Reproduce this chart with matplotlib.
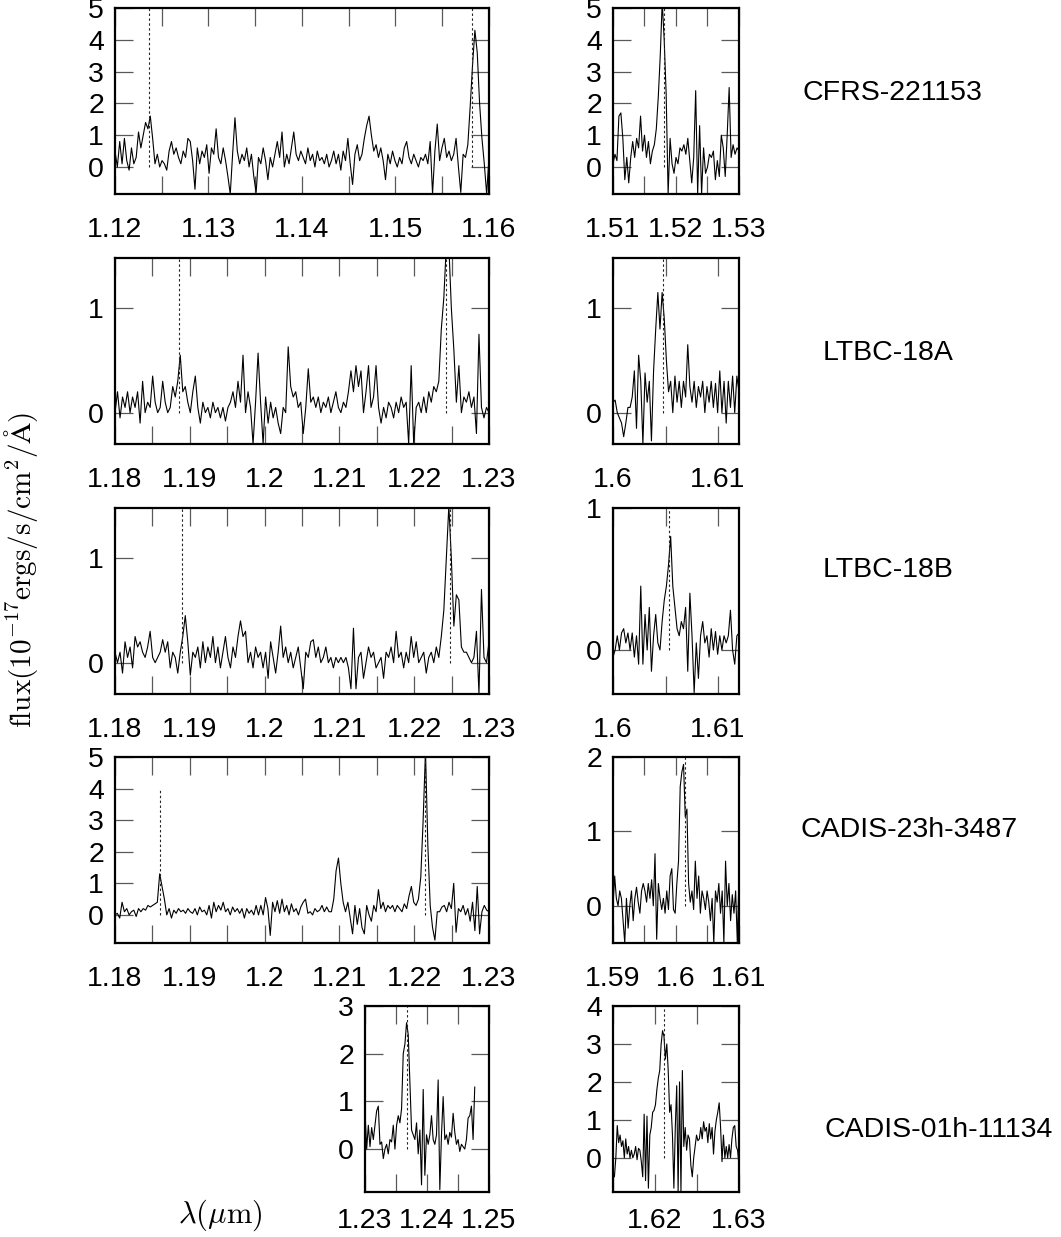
import numpy as np
import matplotlib
matplotlib.use("Agg")
import matplotlib.pyplot as plt

plt.rcParams['font.family'] = ['Liberation Sans', 'DejaVu Sans']
plt.rcParams['mathtext.fontset'] = 'cm'

# ---------------- data ----------------
objects = ["CFRS-221153", "LTBC-18A", "LTBC-18B", "CADIS-23h-3487", "CADIS-01h-11134"]

# CFRS-221153, J band
cfrs_j_range = (1.12, 1.16)
cfrs_j_flux = [0.5, 0.0, 0.8, 0.1, 0.9, 0.2, -0.1, 0.6, 0.1, 0.3,
               1.1, 0.6, 1.0, 1.4, 1.2, 1.6, 0.9, 0.1, 0.4, 0.0,
               0.2, 0.1, -0.1, 0.5, 0.8, 0.4, 0.6, 0.3, 0.1, 0.5,
               0.3, 0.9, 0.8, 0.2, -0.7, 0.6, 0.1, 0.5, 0.3, 0.7,
               -0.2, 0.6, 0.4, 1.2, 0.3, 0.1, 0.6, 0.2, -0.3, -0.85,
               0.4, 1.55, 0.5, 0.1, 0.4, 0.2, 0.6, 0.0, 0.4, -0.3,
               -0.8, 0.3, 0.1, 0.6, 0.2, -0.4, 0.3, 0.0, 0.4, 0.8,
               0.3, 1.1, 0.0, 0.4, 0.1, 0.6, 1.1, 0.4, 0.2, 0.5,
               0.3, 0.1, 0.6, 0.2, 0.4, 0.0, 0.5, 0.2, 0.3, 0.1,
               0.4, 0.0, 0.2, 0.5, 0.1, 0.4, -0.1, 0.5, 0.2, 0.9,
               0.1, -0.55, 0.4, 0.7, 0.2, 0.4, 0.9, 1.3, 1.6, 1.0,
               0.5, 0.7, 0.3, 0.6, 0.2, -0.4, 0.4, 0.1, 0.5, 0.2,
               0.0, 0.3, 0.1, 0.6, 0.8, 0.3, 0.1, 0.4, 0.2, 0.0,
               0.3, 0.2, 0.4, 0.1, 0.8, -0.85, 0.5, 1.35, 0.2, 0.6,
               0.9, 0.3, 0.5, 0.2, 0.4, 0.9, 0.0, -0.8, 0.4, 0.3,
               0.7, 1.9, 3.2, 4.3, 3.6, 2.0, 0.9, 0.1, -0.85, 0.3]
cfrs_j_lines = [1.1236, 1.1582]

# CFRS-221153, H band
cfrs_h_range = (1.51, 1.53)
cfrs_h_flux = [0.1, 0.4, 0.2, 1.6, 1.7, 0.9, -0.4, 0.3, -0.5, 0.3,
               0.8, 0.3, 0.9, 0.6, 1.6, 0.5, 1.0, 0.3, 0.8, 0.1,
               0.5, 0.7, 1.2, 2.2, 3.5, 5.2, 4.0, 2.3, -0.85, 0.9,
               0.1, -0.2, 0.3, 0.1, 0.6, 0.5, 0.7, 0.4, 0.9, 0.2,
               -0.5, 0.3, 2.4, -0.85, 1.3, -0.85, 0.6, -0.2, 0.0, 0.4,
               0.3, 0.5, -0.4, 0.2, -0.3, 1.0, 0.6, -0.3, 1.0, 2.5,
               0.3, 0.7, 0.4, 0.6, 0.5]
cfrs_h_lines = [1.5181]

# LTBC-18A, J band
ltbca_j_range = (1.18, 1.23)
ltbca_j_flux = [0.0, 0.2, -0.05, 0.15, 0.05, 0.2, 0.0, 0.15, 0.05, 0.2,
                -0.1, 0.3, 0.0, 0.1, 0.05, 0.35, 0.1, 0.0, 0.05, 0.3,
                0.1, 0.0, 0.05, 0.25, 0.15, 0.3, 0.55, 0.2, 0.25, 0.1,
                0.0, 0.2, 0.35, 0.05, -0.1, 0.1, 0.0, 0.05, -0.05, 0.1,
                0.0, 0.05, -0.05, 0.05, -0.08, 0.05, 0.1, 0.2, 0.05, 0.3,
                0.1, 0.55, 0.0, 0.2, 0.05, -0.3, 0.1, 0.57, 0.1, -0.3,
                0.15, -0.1, 0.1, -0.05, 0.05, -0.1, -0.2, 0.05, 0.0, 0.63,
                0.25, 0.15, 0.2, 0.05, 0.1, -0.2, 0.05, 0.42, 0.1, 0.15,
                0.05, 0.15, 0.0, 0.1, 0.05, 0.15, 0.0, 0.1, 0.2, 0.05,
                0.0, 0.1, 0.05, 0.2, 0.4, 0.2, 0.45, 0.25, 0.4, 0.0,
                0.2, 0.45, 0.05, 0.15, 0.45, 0.05, -0.1, 0.05, -0.05, 0.1,
                0.05, -0.05, 0.1, 0.0, 0.15, 0.05, 0.1, -0.3, 0.45, -0.3,
                0.05, 0.1, 0.0, 0.15, 0.0, 0.2, 0.1, 0.25, 0.2, 0.3,
                0.8, 1.1, 1.6, 1.6, 1.0, 0.6, 0.1, 0.45, 0.0, 0.15,
                0.1, 0.2, 0.05, 0.15, -0.2, 0.75, 0.05, -0.05, 0.05, 0.0]
ltbca_j_lines = [1.1886, 1.2242]

# LTBC-18A, H band
ltbca_h_range = (1.6, 1.612)
ltbca_h_flux = [0.1, 0.12, 0.0, -0.05, -0.1, -0.23, -0.1, 0.05, 0.05, 0.15,
                0.4, -0.15, 0.55, 0.3, -0.3, 0.38, 0.1, 0.3, -0.27, 0.4,
                0.8, 1.15, 0.8, 1.15, 0.9, 0.5, 0.2, 0.3, 0.0, 0.35,
                0.1, 0.3, 0.05, 0.3, 0.15, 0.65, 0.25, 0.1, 0.3, 0.05,
                0.25, 0.15, 0.3, 0.0, 0.25, 0.1, 0.3, 0.05, 0.28, 0.0,
                0.4, 0.0, 0.3, -0.1, 0.3, 0.05, 0.35, 0.0, 0.35, 0.2]
ltbca_h_lines = [1.6048]

# LTBC-18B, J band
ltbcb_j_range = (1.18, 1.23)
ltbcb_j_flux = [0.1, 0.0, 0.1, -0.1, 0.2, 0.05, 0.15, -0.05, 0.25, 0.15,
                0.2, 0.1, 0.05, 0.15, 0.3, 0.05, 0.0, 0.05, 0.1, 0.22,
                0.1, 0.2, -0.05, 0.1, 0.05, -0.1, 0.1, 0.25, 0.45, 0.2,
                -0.12, 0.1, 0.05, 0.15, -0.05, 0.2, 0.0, 0.15, 0.05, 0.25,
                0.0, 0.15, -0.05, 0.1, 0.25, 0.05, -0.05, 0.15, 0.05, 0.25,
                0.4, 0.25, 0.3, 0.0, 0.1, -0.05, 0.15, 0.05, 0.1, -0.05,
                0.1, -0.15, 0.2, 0.05, -0.1, 0.1, 0.35, 0.05, 0.15, 0.0,
                0.1, -0.05, 0.05, 0.15, -0.05, -0.25, 0.1, 0.05, 0.2, 0.22,
                0.05, 0.15, 0.0, 0.05, 0.15, 0.0, 0.05, -0.05, 0.05, 0.0,
                0.05, 0.0, 0.05, -0.05, -0.25, 0.33, -0.25, 0.05, 0.1, -0.15,
                0.0, 0.15, 0.05, 0.1, -0.05, 0.0, 0.05, -0.15, 0.1, 0.05,
                0.15, 0.0, 0.3, 0.05, 0.1, -0.05, 0.1, 0.0, 0.25, 0.05,
                0.2, 0.0, 0.05, 0.1, -0.1, 0.05, 0.1, 0.0, 0.15, 0.05,
                0.25, 0.5, 1.0, 1.5, 1.0, 0.35, 0.65, 0.6, 0.15, 0.1,
                0.1, 0.05, 0.0, 0.05, 0.3, -0.3, 0.7, 0.05, 0.0, 0.2]
ltbcb_j_lines = [1.1890, 1.2248]

# LTBC-18B, H band
ltbcb_h_range = (1.6, 1.612)
ltbcb_h_flux = [-0.05, 0.0, 0.1, 0.0, 0.12, 0.15, 0.05, 0.12, 0.0, 0.12,
                -0.05, 0.1, -0.1, 0.45, -0.1, 0.25, 0.0, 0.3, -0.15, 0.1,
                0.25, 0.05, 0.0, 0.2, 0.35, 0.45, 0.6, 0.8, 0.45, 0.3,
                0.15, 0.1, 0.2, 0.15, 0.3, -0.15, 0.4, 0.1, -0.3, 0.05,
                -0.2, 0.1, 0.2, 0.05, 0.1, -0.05, 0.15, 0.0, 0.13, -0.03,
                0.1, 0.0, 0.1, 0.05, 0.1, 0.28, 0.0, -0.1, 0.1, 0.12]
ltbcb_h_lines = [1.6053]

# CADIS-23h-3487, J band
cadis23_j_range = (1.18, 1.23)
cadis23_j_flux = [0.0, 0.05, -0.1, 0.4, 0.1, 0.2, 0.0, 0.1, 0.15, -0.05,
                  0.2, 0.1, 0.2, 0.15, 0.3, 0.25, 0.3, 0.35, 0.4, 1.3,
                  0.9, 0.5, 0.0, 0.2, -0.1, 0.15, 0.05, 0.2, 0.1, 0.15,
                  0.05, 0.2, 0.1, 0.05, 0.2, 0.0, 0.25, 0.1, 0.15, 0.0,
                  0.3, -0.1, 0.4, 0.1, 0.3, 0.15, 0.4, 0.1, 0.2, 0.0,
                  0.25, 0.1, 0.2, 0.05, 0.2, -0.1, 0.2, 0.05, 0.15, 0.0,
                  0.3, 0.0, 0.3, 0.0, 0.55, 0.2, -0.65, 0.4, 0.1, 0.45,
                  0.05, 0.5, 0.1, 0.3, 0.0, 0.35, 0.1, 0.2, 0.0, 0.25,
                  0.4, 0.5, 0.05, 0.1, 0.0, 0.2, 0.1, 0.15, 0.3, 0.1,
                  0.25, 0.1, 0.1, 0.5, 1.4, 1.8, 1.0, 0.4, 0.1, 0.4,
                  -0.1, -0.6, 0.3, -0.3, 0.2, -0.4, -0.6, 0.3, 0.0, -0.2,
                  0.3, 0.1, 0.8, 0.2, 0.4, 0.1, 0.3, 0.2, 0.3, 0.1,
                  0.3, 0.2, 0.1, 0.35, 0.2, 0.6, 0.9, 0.4, 0.3, 0.5,
                  1.2, 3.0, 5.2, 2.2, 0.3, -0.4, -0.8, 0.1, 0.1, 0.25,
                  0.3, 0.1, 0.4, 0.2, 1.0, -0.55, 0.2, 0.1, 0.3, 0.0,
                  0.2, -0.2, 0.4, -0.5, 0.9, -0.6, 0.1, 0.3, 0.15, 0.1]
cadis23_j_lines = [1.1860, 1.2214]
cadis23_j_line_tops = [4.0, 5.0]

# CADIS-23h-3487, H band
cadis23_h_range = (1.59, 1.61)
cadis23_h_flux = [0.0, 0.4, 0.1, 0.0, 0.2, 0.1, -0.2, -0.5, 0.1, -0.3,
                  0.0, 0.2, -0.2, 0.1, 0.25, 0.05, -0.1, 0.2, 0.3, 0.2,
                  0.05, 0.3, 0.1, 0.35, 0.0, 0.7, -0.45, 0.3, 0.1, -0.05,
                  0.1, -0.1, 0.2, -0.05, 0.4, 0.5, -0.05, -0.1, 0.3, 0.6,
                  1.6, 1.8, 1.9, 1.2, 1.3, 0.3, 0.05, 0.2, -0.05, 0.6,
                  0.1, 0.4, -0.1, 0.2, 0.1, -0.05, 0.2, 0.05, -0.2, 0.1,
                  -0.5, 0.2, 0.05, 0.3, -0.1, 0.2, -0.5, 0.6, 0.0, 0.3,
                  -0.2, 0.15, -0.1, 0.2, -0.5, 0.4]
cadis23_h_lines = [1.6014]

# CADIS-01h-11134, J band
cadis01_j_range = (1.23, 1.2477)
cadis01_j_flux = [0.8, 0.0, 0.5, 0.05, 0.45, 0.2, 0.5, 0.8, 0.9, 0.1,
                  0.15, -0.2, 0.0, 0.1, -0.1, 0.2, 0.15, 0.5, 0.0, 0.5,
                  0.7, 0.55, 0.85, 2.0, 2.2, 2.65, 2.4, 1.4, 0.4, 0.3,
                  0.2, 0.55, -0.1, 0.4, -0.75, 1.25, -0.55, 0.3, 0.1, 0.3,
                  0.7, 0.2, 0.1, 0.3, 1.45, -0.85, 0.3, 1.1, 0.2, 0.3,
                  0.1, 0.35, 0.25, 0.75, 0.35, 0.1, 0.2, -0.05, 0.1, 0.05,
                  0.0, 0.2, 0.65, 0.7, 0.9, 0.2, 1.3]
cadis01_j_lines = [1.2367]

# CADIS-01h-11134, H band
cadis01_h_range = (1.615, 1.63)
cadis01_h_flux = [-0.5, -0.5, 0.0, 0.85, 0.4, 0.6, 0.3, 0.45, 0.0, 0.5,
                  0.1, 0.3, 0.0, 0.2, 0.0, 0.1, 0.3, -0.05, 0.25, 0.2,
                  -0.1, -0.5, 1.15, -0.6, 1.1, -0.8, 0.6, 0.8, 1.2, 1.25,
                  1.4, 1.8, 2.1, 2.3, 3.0, 3.35, 3.2, 2.6, 3.0, 2.3,
                  1.2, 1.4, 0.6, -0.8, 0.8, 1.9, -0.9, 2.0, -0.9, 2.3,
                  0.3, 0.8, 0.2, 0.6, 0.5, -0.2, -0.5, 0.0, 0.3, 0.6,
                  0.45, 0.5, 0.8, 0.5, 0.95, 0.7, 0.8, 0.4, 0.9, 0.5,
                  0.8, 0.1, 0.7, 1.0, 1.2, 1.45, 0.8, -0.1, 0.6, 0.0,
                  0.3, 0.0, 0.35, 0.0, 0.5, 0.8, 0.85, 0.3, 0.2, -0.2]
cadis01_h_lines = [1.6211]

# axis settings (limits and ticks)
j_ticks_a = [1.12, 1.13, 1.14, 1.15, 1.16]
j_minor_a = [1.125, 1.135, 1.145, 1.155]
j_ticks_b = [1.18, 1.19, 1.20, 1.21, 1.22, 1.23]
j_minor_b = [1.185, 1.195, 1.205, 1.215, 1.225]

# ---------------- figure ----------------
W, H = 1061, 1237
fig = plt.figure(figsize=(W / 100, H / 100), dpi=100)

def px_axes(x0, y0, x1, y1):
    return fig.add_axes([x0 / W, 1 - y1 / H, (x1 - x0) / W, (y1 - y0) / H])

LX0, LX1 = 115, 489
RX0, RX1 = 613, 739
MX0, MX1 = 365, 489
rows_y = [(8, 194), (258, 444), (508, 694), (757, 943), (1006, 1192)]
row_xpad = [16.5, 16.5, 16.5, 16.5, 11.5]

panels = [
    # (box, wl range, flux, lines, line tops, xlim, ylim, xticks, xminor, yticks)
    ((LX0, LX1, 0), cfrs_j_range, cfrs_j_flux, cfrs_j_lines, None,
     (1.12, 1.16), (-0.85, 5), j_ticks_a, j_minor_a, [0, 1, 2, 3, 4, 5]),
    ((RX0, RX1, 0), cfrs_h_range, cfrs_h_flux, cfrs_h_lines, None,
     (1.51, 1.53), (-0.85, 5), [1.51, 1.52, 1.53], [1.515, 1.525], [0, 1, 2, 3, 4, 5]),
    ((LX0, LX1, 1), ltbca_j_range, ltbca_j_flux, ltbca_j_lines, None,
     (1.18, 1.23), (-0.3, 1.48), j_ticks_b, j_minor_b, [0, 1]),
    ((RX0, RX1, 1), ltbca_h_range, ltbca_h_flux, ltbca_h_lines, None,
     (1.6, 1.612), (-0.3, 1.48), [1.6, 1.61], [1.605], [0, 1]),
    ((LX0, LX1, 2), ltbcb_j_range, ltbcb_j_flux, ltbcb_j_lines, None,
     (1.18, 1.23), (-0.3, 1.48), j_ticks_b, j_minor_b, [0, 1]),
    ((RX0, RX1, 2), ltbcb_h_range, ltbcb_h_flux, ltbcb_h_lines, None,
     (1.6, 1.612), (-0.31, 1.0), [1.6, 1.61], [1.605], [0, 1]),
    ((LX0, LX1, 3), cadis23_j_range, cadis23_j_flux, cadis23_j_lines, cadis23_j_line_tops,
     (1.18, 1.23), (-0.89, 5), j_ticks_b, j_minor_b, [0, 1, 2, 3, 4, 5]),
    ((RX0, RX1, 3), cadis23_h_range, cadis23_h_flux, cadis23_h_lines, None,
     (1.59, 1.61), (-0.5, 2), [1.59, 1.60, 1.61], [1.595, 1.605], [0, 1, 2]),
    ((MX0, MX1, 4), cadis01_j_range, cadis01_j_flux, cadis01_j_lines, None,
     (1.23, 1.25), (-0.9, 3), [1.23, 1.24, 1.25], [1.235, 1.245], [0, 1, 2, 3]),
    ((RX0, RX1, 4), cadis01_h_range, cadis01_h_flux, cadis01_h_lines, None,
     (1.615, 1.63), (-0.9, 4), [1.62, 1.63], [1.615, 1.625], [0, 1, 2, 3, 4]),
]

for (x0, x1, r), wrange, flux, lines, tops, xlim, ylim, xt, xm, yt in panels:
    y0, y1 = rows_y[r]
    ax = px_axes(x0, y0, x1, y1)
    wl = np.linspace(wrange[0], wrange[1], len(flux))
    ax.plot(wl, flux, color='black', lw=0.8)
    for k, lw_ in enumerate(lines):
        top = tops[k] if tops is not None else ylim[1]
        ax.plot([lw_, lw_], [0, top], color='0.15', lw=0.8,
                linestyle=(0, (2.2, 2.2)))
    ax.set_xlim(*xlim)
    ax.set_ylim(*ylim)
    ax.set_xticks(xt, labels=['%g' % v for v in xt])
    ax.set_xticks(xm, minor=True)
    ax.set_yticks(yt, labels=['%g' % v for v in yt])
    ax.tick_params(which='both', direction='in', top=True, right=True,
                   length=13, width=0.9, color='0.35', labelsize=20.5)
    ax.tick_params(axis='x', which='both', pad=row_xpad[r])
    ax.tick_params(axis='y', which='both', pad=8)
    for s in ax.spines.values():
        s.set_linewidth(1.6)

# object names
label_pos = [(802, 93), (823, 353), (823, 570), (800, 830), (825, 1130)]
for name, (lx, ly) in zip(objects, label_pos):
    fig.text(lx / W, 1 - ly / H, name, ha='left', va='center', fontsize=20.5)

fig.text(21 / W, 1 - 570 / H, r'$\mathrm{flux(10^{-17}ergs/s/cm^2/\AA)}$',
         rotation=90, ha='center', va='center', fontsize=21)
fig.text(220 / W, 1 - 1215 / H, r'$\lambda(\mu\mathrm{m})$',
         ha='center', va='center', fontsize=22)

fig.savefig("out.png", dpi=100)
